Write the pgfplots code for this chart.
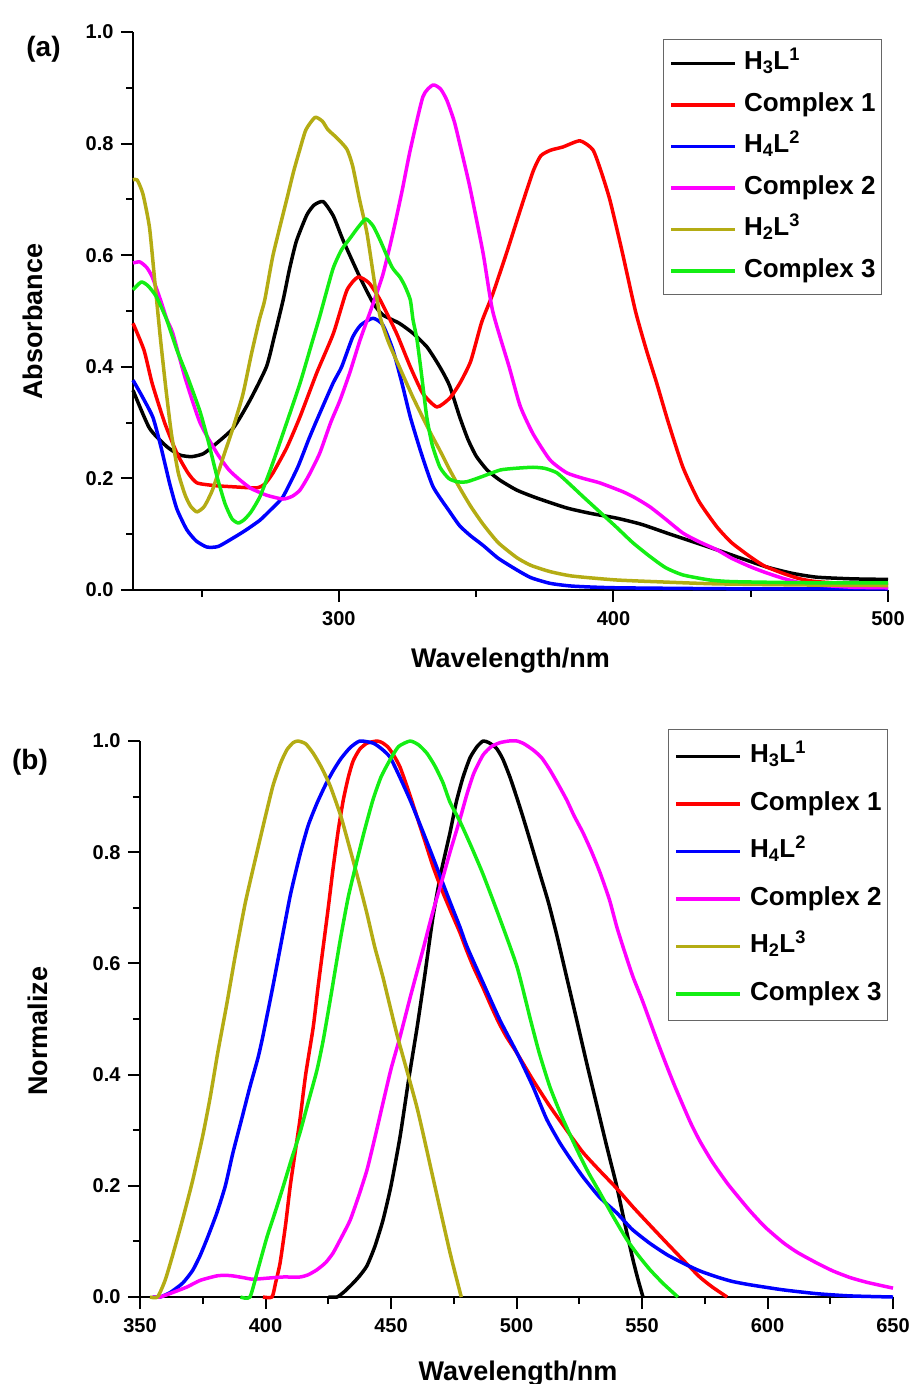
\documentclass[border=0pt]{standalone}
\usepackage{fontspec}
\setmainfont{Liberation Sans}
\usepackage{pgfplots}
\pgfplotsset{compat=1.18}
\definecolor{cOlive}{RGB}{180,172,20}
\definecolor{cGreen}{RGB}{20,238,20}
\definecolor{cMag}{RGB}{255,0,255}
\definecolor{cRed}{RGB}{255,0,0}
\definecolor{cBlue}{RGB}{0,0,255}

% ---------------- panel (a) data ----------------
\pgfplotstableread{
x y
225 0.358
231 0.290
237.3 0.257
242 0.242
246.4 0.239
250.5 0.244
254 0.257
261.5 0.290
267.6 0.340
273.6 0.400
276.5 0.455
279.7 0.520
282 0.575
284.5 0.625
288.3 0.672
291 0.690
294.3 0.696
298 0.670
301.5 0.627
307.6 0.561
312.5 0.514
316 0.493
322 0.478
327 0.460
332 0.436
335.5 0.410
338 0.389
340.4 0.365
344 0.310
347 0.270
350 0.240
354 0.215
358.6 0.197
364.8 0.179
372 0.165
383 0.147
392 0.137
401 0.129
410 0.118
419.5 0.102
428 0.088
437.7 0.072
447 0.056
456 0.041
465 0.030
474 0.023
487 0.020
500 0.019
}\aBlack
\pgfplotstableread{
x y
225 0.478
229 0.430
232 0.370
236.5 0.300
241 0.245
245 0.210
248.3 0.192
255 0.187
261.4 0.185
270 0.183
273 0.190
276 0.210
281 0.255
285.8 0.310
292 0.390
298 0.460
302.9 0.537
307 0.561
311 0.550
315 0.520
321 0.460
326 0.400
330.6 0.352
335.7 0.328
340.4 0.344
344 0.370
348 0.410
352 0.480
356 0.530
361 0.603
366 0.680
370.7 0.750
373.5 0.778
377 0.788
381.6 0.794
387.8 0.805
392.5 0.789
395.5 0.750
398.7 0.699
403 0.610
408 0.500
412 0.430
415.8 0.370
420 0.300
425.3 0.220
431 0.160
437.7 0.113
443 0.085
449.7 0.060
455 0.043
461.7 0.030
468 0.020
474 0.015
487 0.011
500 0.010
}\aRed
\pgfplotstableread{
x y
225 0.376
228 0.350
232.2 0.310
235 0.260
238.4 0.190
241 0.145
244.6 0.108
248 0.088
251.9 0.077
256 0.078
261.4 0.093
266 0.107
271.2 0.125
275 0.143
279.6 0.167
285 0.220
289 0.270
292 0.305
297.8 0.370
301 0.400
305 0.453
308 0.475
312.4 0.487
316 0.475
319.7 0.430
323 0.370
326 0.310
330 0.245
334.3 0.185
340.4 0.140
344 0.115
348 0.097
352.5 0.080
358 0.057
364.8 0.036
370 0.022
376.9 0.012
385 0.007
401 0.004
450 0.002
500 0.002
}\aBlue
\pgfplotstableread{
x y
225 0.586
227.5 0.588
230 0.578
232 0.561
235 0.520
237.4 0.484
239.5 0.460
244 0.380
249.4 0.300
255.6 0.245
260 0.215
264 0.197
268 0.182
273.6 0.170
279.6 0.163
283 0.168
285.8 0.179
289 0.205
293 0.245
297 0.300
300.4 0.340
304 0.390
307.7 0.448
312 0.507
316 0.565
319.7 0.640
323 0.715
326 0.789
330.6 0.884
334.2 0.905
337 0.898
339.3 0.878
342 0.840
344 0.800
347.7 0.722
352.5 0.604
356 0.500
362 0.400
366 0.330
370.7 0.280
376.9 0.233
383 0.210
389 0.200
395 0.192
403.5 0.176
408 0.165
413.3 0.149
419 0.127
425.3 0.102
431 0.087
437.7 0.072
443 0.057
449.7 0.042
455 0.032
461.7 0.021
468 0.013
474 0.009
487 0.005
500 0.004
}\aMag
\pgfplotstableread{
x y
225 0.735
226.5 0.735
228.6 0.710
231 0.650
233 0.550
235 0.450
237 0.360
239 0.280
241.5 0.210
244 0.170
246 0.150
248.3 0.140
251 0.150
254 0.180
258 0.240
261.4 0.290
265 0.350
268 0.420
271 0.484
273 0.520
276 0.600
281 0.700
283.5 0.750
285.8 0.790
288 0.825
291.3 0.847
294 0.840
296 0.825
299.3 0.810
302.9 0.790
305 0.760
307.5 0.700
310.2 0.640
313 0.550
315 0.490
318 0.445
322 0.400
327 0.345
333 0.285
337 0.248
340.4 0.215
344 0.183
348 0.150
352.5 0.118
358 0.085
364.8 0.058
370 0.044
376.9 0.033
385 0.025
401 0.018
420 0.014
437.7 0.011
470 0.009
500 0.008
}\aOlive
\pgfplotstableread{
x y
225 0.538
228 0.552
230.5 0.545
233.6 0.525
237.3 0.484
241 0.430
245 0.380
249.4 0.320
252.5 0.265
255.5 0.205
258.5 0.155
261 0.128
263.3 0.120
265.5 0.126
268 0.140
271.2 0.167
275 0.215
279.6 0.280
285.8 0.370
290 0.440
293 0.490
297.8 0.575
301 0.610
304 0.630
307 0.650
309.8 0.665
312.5 0.652
315 0.627
319.3 0.579
322.2 0.561
324 0.545
326 0.520
327 0.484
328.4 0.450
330 0.390
332 0.310
334 0.260
336.8 0.220
340 0.200
343 0.194
346.6 0.194
352 0.203
358.7 0.215
364 0.218
370.7 0.220
375 0.218
379.4 0.210
384 0.190
389 0.167
395 0.140
401 0.113
407 0.085
413.3 0.060
419 0.040
425.3 0.027
435 0.018
443.6 0.015
470 0.013
500 0.013
}\aGreen

% ---------------- panel (b) data ----------------
\pgfplotstableread{
x y
425 0
428.5 0
431.5 0.010
434.9 0.025
437.5 0.038
440.4 0.056
443.5 0.090
446.8 0.138
450 0.200
453.6 0.288
457 0.390
460.4 0.485
463.5 0.580
466.7 0.683
470 0.765
473.5 0.835
476 0.890
478.7 0.935
481.5 0.970
484.3 0.990
486.7 1.000
489 0.997
492 0.987
494.5 0.968
497.4 0.935
500 0.900
502.6 0.863
506 0.812
509.4 0.760
512.7 0.710
516.1 0.650
520 0.575
524 0.498
528 0.420
532 0.345
536 0.270
540 0.198
543 0.135
546.4 0.067
548.5 0.030
550.4 0
}\bBlack
\pgfplotstableread{
x y
399 0
402.6 0
404 0.025
405.8 0.061
408 0.130
409.8 0.198
411.8 0.260
413.7 0.318
416 0.400
419 0.485
421 0.560
423 0.630
425 0.700
426.9 0.770
429 0.840
431 0.894
433 0.935
434.9 0.964
437.5 0.985
440.4 0.996
444.4 1.000
446.5 0.997
448.8 0.989
451 0.975
453.6 0.953
457 0.910
460.4 0.863
463.5 0.820
466.7 0.775
470 0.735
473.5 0.697
477.5 0.655
480 0.625
483 0.592
486.7 0.556
490 0.522
493 0.493
496 0.468
500 0.440
506.6 0.390
513 0.345
520 0.300
526.5 0.260
533 0.228
540 0.195
546.4 0.162
553 0.130
559.9 0.097
566.5 0.066
573 0.036
578 0.018
583.9 0
}\bRed
\pgfplotstableread{
x y
355 0
358 0
362 0.008
367 0.025
371 0.048
374 0.075
377 0.108
380.6 0.151
384 0.200
387 0.259
390.5 0.320
393.8 0.378
397 0.430
399 0.470
403 0.560
407 0.655
410 0.725
413.7 0.795
417 0.848
420.5 0.888
424 0.922
426.9 0.946
430 0.968
433.7 0.988
437.6 1.000
443 0.996
446.5 0.985
449.6 0.971
453 0.940
457.6 0.894
462 0.845
466.7 0.791
471 0.740
474 0.705
477.5 0.665
480.3 0.630
486.7 0.565
493.4 0.498
500.2 0.439
506.6 0.378
512 0.320
517.3 0.277
522 0.245
526.5 0.216
533 0.180
540 0.151
546 0.122
553 0.097
560 0.076
566.3 0.061
573 0.047
579.9 0.036
586 0.028
593 0.022
606 0.013
619.7 0.006
632.9 0.002
650 0
}\bBlue
\pgfplotstableread{
x y
355 0
358 0
363 0.008
368.7 0.018
374 0.030
380.6 0.038
384 0.039
387 0.038
391 0.035
395 0.032
401 0.034
407 0.036
413.7 0.036
417 0.040
420.5 0.049
424 0.062
426.9 0.079
430 0.105
433.7 0.138
437 0.180
440.4 0.228
443.5 0.285
446.8 0.349
450 0.410
453.6 0.468
458 0.545
462.7 0.624
466.5 0.690
470.7 0.755
473.5 0.800
477.5 0.860
480.3 0.905
483 0.942
486.7 0.975
490 0.990
493.4 0.997
497 1.000
500.2 1.000
503 0.995
506.6 0.984
510 0.970
513.3 0.948
516.5 0.923
520 0.894
523 0.865
526.5 0.835
530 0.800
533.3 0.763
537 0.715
540 0.665
543 0.622
546.4 0.576
550 0.535
553 0.498
556.5 0.455
559.9 0.415
563 0.380
566.3 0.345
569.5 0.312
573.1 0.280
578 0.243
583.9 0.205
588 0.182
593 0.155
599 0.126
606.2 0.098
612 0.080
619.7 0.061
626 0.047
632.9 0.035
640 0.026
650 0.016
}\bMag
\pgfplotstableread{
x y
354 0
357 0
360 0.030
363 0.075
367 0.140
371 0.210
375 0.290
378 0.360
381 0.440
384.5 0.525
388 0.615
392 0.710
396.6 0.800
400 0.865
403 0.920
406 0.960
408.5 0.984
411 0.997
413 1.000
416 0.995
419 0.978
422 0.955
425.7 0.920
430 0.865
433.7 0.805
437 0.750
440.4 0.690
443.5 0.630
446.8 0.575
452.5 0.470
460.4 0.340
466.7 0.215
473.5 0.080
478 0
}\bOlive
\pgfplotstableread{
x y
390 0
393.8 0
397 0.050
400.6 0.108
404 0.155
407 0.198
410.5 0.250
413.7 0.295
417 0.350
420.5 0.408
423 0.462
426 0.540
429.7 0.640
433 0.720
436.5 0.786
439.5 0.840
442.8 0.894
446 0.935
449.6 0.966
453 0.990
457.6 1.000
461 0.993
464.3 0.978
467.5 0.955
470.7 0.925
473.5 0.890
477.5 0.855
482 0.810
486.7 0.760
493 0.685
500.2 0.594
505.5 0.500
509 0.440
513.3 0.378
518 0.325
524.1 0.265
528.5 0.225
533.3 0.187
538.5 0.145
544 0.103
548.5 0.075
553.2 0.049
558.5 0.024
564.3 0
}\bGreen

\pgfplotsset{
  myaxis/.style={
    scale only axis,
    clip=false,
    axis x line*=bottom, axis y line*=left,
    axis line style={line width=2pt, -},
    every tick/.style={line width=2pt, black},
    tick align=outside,
    major tick length=12pt, minor tick length=7pt,
    tick label style={font=\fontsize{20}{24}\selectfont\bfseries},
    /pgf/number format/assume math mode=true,
    label style={font=\fontsize{27}{32}\selectfont\bfseries},
    ymin=0, ymax=1,
    ytick={0,0.2,0.4,0.6,0.8,1.0},
    minor ytick={0.1,0.3,0.5,0.7,0.9},
    yticklabel style={xshift=-4pt, /pgf/number format/.cd, fixed, fixed zerofill, precision=1},
    xticklabel style={yshift=-6pt, /pgf/number format/.cd, fixed, precision=0, 1000 sep={}},
    legend cell align=left,
    legend image code/.code={\draw[##1, line width=3.5pt] (0pt,0pt) -- (64pt,0pt);},
    every axis plot/.append style={line width=3.5pt, line join=round, line cap=butt, smooth, tension=0.35},
  }
}

\begin{document}
\begin{tikzpicture}
\begin{axis}[myaxis,
  at={(133pt,-590pt)}, anchor=south west,
  width=755pt, height=558pt,
  xmin=225, xmax=500,
  xtick={300,400,500}, minor xtick={250,350,450},
  xlabel={Wavelength/nm}, ylabel={Absorbance},
  xlabel style={at={(axis description cs:0.5,-0.138)}, anchor=base},
  ylabel style={at={(axis description cs:-0.1325,0.481)}, anchor=center, rotate=0},
  legend style={at={(axis description cs:1,1)}, anchor=north east, xshift=-6pt, yshift=-7pt,
    draw=black!60, line width=1pt, font=\fontsize{26}{30}\selectfont\bfseries,
    inner xsep=6pt, inner ysep=3pt, column sep=7pt,
    nodes={inner sep=0pt, text height=27pt, text depth=14.5pt}},
]
\addplot[black] table {\aBlack};
\addlegendentry{H\textsubscript{3}L\textsuperscript{1}}
\addplot[cRed] table {\aRed};
\addlegendentry{Complex 1}
\addplot[cBlue] table {\aBlue};
\addlegendentry{H\textsubscript{4}L\textsuperscript{2}}
\addplot[cMag] table {\aMag};
\addlegendentry{Complex 2}
\addplot[cOlive] table {\aOlive};
\addlegendentry{H\textsubscript{2}L\textsuperscript{3}}
\addplot[cGreen] table {\aGreen};
\addlegendentry{Complex 3}
\end{axis}

\begin{axis}[myaxis,
  at={(140pt,-1297pt)}, anchor=south west,
  width=753pt, height=556pt,
  xmin=350, xmax=650,
  xtick={350,400,...,650}, minor xtick={375,425,...,625},
  xlabel={Wavelength/nm}, ylabel={Normalize},
  xlabel style={at={(axis description cs:0.502,-0.151)}, anchor=base},
  ylabel style={at={(axis description cs:-0.1355,0.478)}, anchor=center},
  legend style={at={(axis description cs:1,1)}, anchor=north east, xshift=-5pt, yshift=12pt,
    draw=black!60, line width=1pt, font=\fontsize{26}{30}\selectfont\bfseries,
    inner xsep=6pt, inner ysep=3pt, column sep=8pt,
    nodes={inner sep=0pt, text height=30pt, text depth=17.5pt}},
]
\addplot[black] table {\bBlack};
\addlegendentry{H\textsubscript{3}L\textsuperscript{1}}
\addplot[cRed] table {\bRed};
\addlegendentry{Complex 1}
\addplot[cBlue] table {\bBlue};
\addlegendentry{H\textsubscript{4}L\textsuperscript{2}}
\addplot[cMag] table {\bMag};
\addlegendentry{Complex 2}
\addplot[cOlive] table {\bOlive};
\addlegendentry{H\textsubscript{2}L\textsuperscript{3}}
\addplot[cGreen] table {\bGreen};
\addlegendentry{Complex 3}
\end{axis}

\node[font=\fontsize{28}{32}\selectfont\bfseries] at (43.5pt,-49pt) {(a)};
\node[font=\fontsize{28}{32}\selectfont\bfseries] at (30pt,-762pt) {(b)};

\pgfresetboundingbox
\path[use as bounding box] (0pt,0pt) rectangle (912pt,-1384pt);
\end{tikzpicture}
\end{document}
